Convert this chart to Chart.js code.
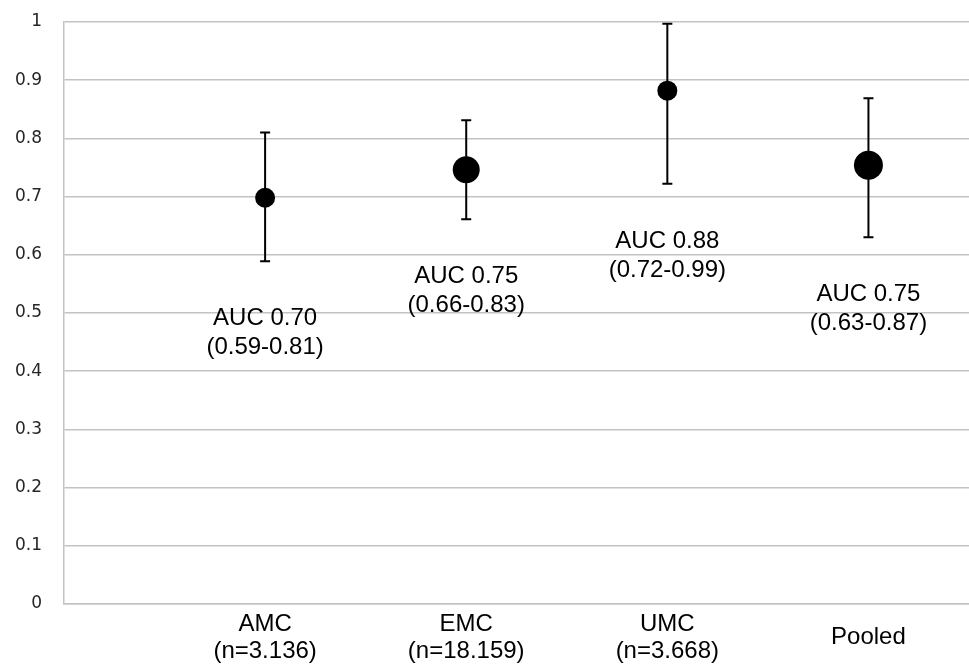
<!DOCTYPE html>
<html><head><meta charset="utf-8">
<script src="https://cdn.jsdelivr.net/npm/chart.js@4/dist/chart.umd.min.js"></script>
<style>html,body{margin:0;padding:0;background:#fff;overflow:hidden}#wrap{width:969px;height:666px;position:relative}canvas{display:block}</style>
</head><body><div id="wrap"><canvas id="c"></canvas></div>
<script>
const categories = ['AMC', 'EMC', 'UMC', 'Pooled'];
const sampleSizes = ['(n=3.136)', '(n=18.159)', '(n=3.668)', null];
const auc = [0.698, 0.746, 0.882, 0.754];
const ciLow = [0.589, 0.661, 0.722, 0.630];
const ciHigh = [0.810, 0.831, 0.997, 0.869];
const aucLabels = ['AUC 0.70', 'AUC 0.75', 'AUC 0.88', 'AUC 0.75'];
const ciLabels = ['(0.59-0.81)', '(0.66-0.83)', '(0.72-0.99)', '(0.63-0.87)'];
const markerRadius = [10, 13.5, 10, 14.5];
const yMin = 0, yMax = 1, yStep = 0.1;

const GRID = '#c3c3c3';
const TEXT_FONT = "'Liberation Sans', Arial, sans-serif";

const errorBars = {
  id: 'errorBars',
  beforeDatasetsDraw(chart) {
    const {ctx, scales: {x, y}} = chart;
    ctx.save();
    ctx.strokeStyle = '#000';
    ctx.lineWidth = 2;
    categories.forEach((c, i) => {
      const px = x.getPixelForValue(i + 1);
      const top = y.getPixelForValue(ciHigh[i]);
      const bot = y.getPixelForValue(ciLow[i]);
      ctx.beginPath();
      ctx.moveTo(px, top); ctx.lineTo(px, bot);
      ctx.moveTo(px - 5, top); ctx.lineTo(px + 5, top);
      ctx.moveTo(px - 5, bot); ctx.lineTo(px + 5, bot);
      ctx.stroke();
    });
    ctx.restore();
  },
  afterDatasetsDraw(chart) {
    const {ctx, scales: {x, y}} = chart;
    ctx.save();
    ctx.fillStyle = '#000';
    ctx.font = '24px ' + TEXT_FONT;
    ctx.textAlign = 'center';
    ctx.textBaseline = 'alphabetic';
    categories.forEach((c, i) => {
      const px = x.getPixelForValue(i + 1);
      const base = y.getPixelForValue(ciLow[i]) + 64;
      ctx.fillText(aucLabels[i], px, base);
      ctx.fillText(ciLabels[i], px, base + 29);
    });
    ctx.restore();
  }
};

new Chart(document.getElementById('c'), {
  type: 'scatter',
  data: {
    datasets: [{
      data: categories.map((c, i) => ({x: i + 1, y: auc[i]})),
      backgroundColor: '#000',
      borderColor: '#000',
      pointRadius: markerRadius,
      pointHoverRadius: markerRadius,
      pointBorderWidth: 0,
      clip: false
    }]
  },
  options: {
    responsive: true,
    maintainAspectRatio: false,
    animation: false,
    events: [],
    layout: {autoPadding: false, padding: {top: 22, left: 0, right: 0, bottom: 0}},
    plugins: {legend: {display: false}, tooltip: {enabled: false}},
    scales: {
      x: {
        type: 'linear', min: 0, max: 4.5,
        afterBuildTicks(s) { s.ticks = categories.map((c, i) => ({value: i + 1})); },
        afterFit(s) { s.height = 62; s.paddingLeft = 0; s.paddingRight = 0; },
        grid: {display: false, drawTicks: false},
        border: {display: true, color: GRID, width: 1.5},
        ticks: {
          autoSkip: false, maxRotation: 0, minRotation: 0,
          crossAlign: 'center',
          padding: 20,
          color: '#000',
          font: {family: TEXT_FONT, size: 24, lineHeight: 1.125},
          callback(v) {
            const i = Math.round(v) - 1;
            return sampleSizes[i] ? [categories[i], sampleSizes[i]] : categories[i];
          }
        }
      },
      y: {
        min: yMin, max: yMax,
        afterFit(s) { s.width = 64; s.paddingTop = 0; s.paddingBottom = 0; },
        grid: {color: GRID, lineWidth: 1.5, drawTicks: false},
        border: {display: true, color: GRID, width: 1.5},
        ticks: {
          stepSize: yStep,
          padding: 22,
          color: '#262626',
          font: {family: "'DejaVu Sans', sans-serif", size: 17},
          callback: v => String(+v.toFixed(1))
        }
      }
    }
  },
  plugins: [errorBars]
});
</script>
</body></html>
